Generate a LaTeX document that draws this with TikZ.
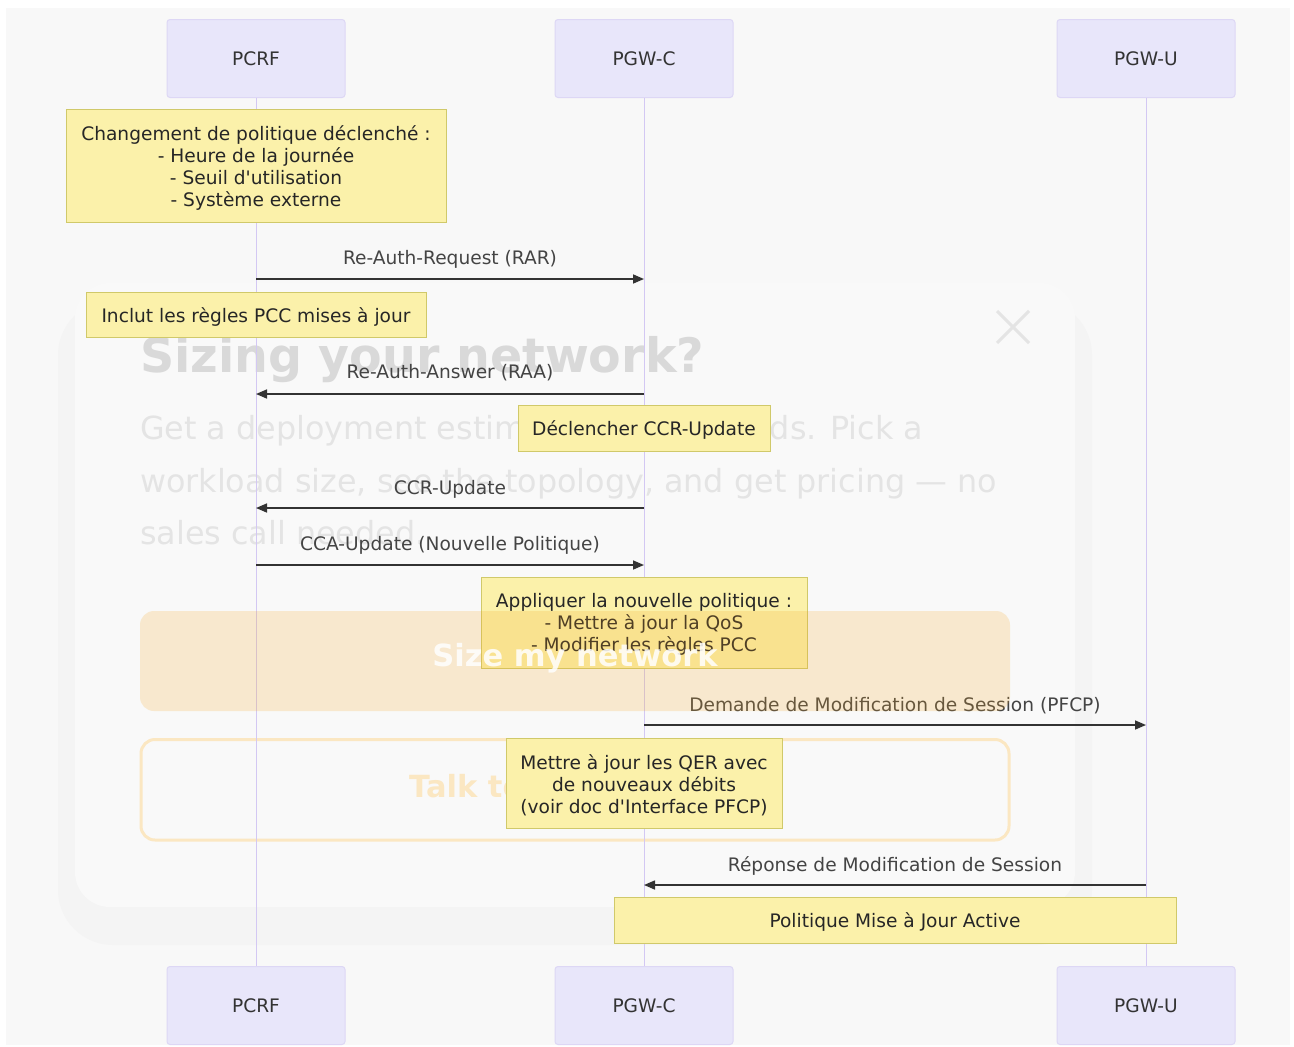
\documentclass[tikz,border=0pt]{standalone}
\usepackage{fontspec}
\newfontfamily\dv{DejaVu Sans}
\usetikzlibrary{arrows.meta}
\definecolor{bgc}{HTML}{F8F8F8}
\definecolor{shadowc}{HTML}{F4F4F4}
\definecolor{modalc}{HTML}{F9F9F9}
\definecolor{actfill}{HTML}{E8E6FA}
\definecolor{actdraw}{HTML}{DDD7F5}
\definecolor{lifec}{HTML}{D3C8F3}
\definecolor{notefill}{HTML}{FBF1AA}
\definecolor{notedraw}{HTML}{D0C96A}
\definecolor{msgc}{HTML}{333333}
\definecolor{lblc}{HTML}{444444}
\definecolor{ovtitle}{HTML}{D9D9D9}
\definecolor{ovtext}{HTML}{E4E4E4}
\definecolor{btnc}{HTML}{F5A623}
\definecolor{btnline}{HTML}{FBE7C2}
\newcommand{\dfont}{\dv\fontsize{18.6}{22}\selectfont}
\newcommand{\ovbig}{\dv\bfseries\fontsize{47.5}{52}\selectfont}
\newcommand{\ovbody}{\dv\fontsize{31.8}{52.5}\selectfont}
\newcommand{\ovbtn}{\dv\bfseries\fontsize{30.5}{36}\selectfont}
\begin{document}
\begin{tikzpicture}[x=1pt,y=-1pt,
  actor/.style={draw=actdraw, fill=actfill, rounded corners=3pt, minimum width=178pt, minimum height=78pt, font=\dfont, text=msgc, line width=1pt, inner sep=0pt},
  note/.style={draw=notedraw, fill=notefill, inner sep=0pt, line width=1pt},
  notetext/.style={font=\dfont, text=black!85, align=center, inner sep=0pt},
  lifeline/.style={draw=lifec, line width=1pt},
  msg/.style={draw=msgc, line width=1.6pt, -{Triangle[length=11pt,width=9pt]}},
  lbl/.style={font=\dfont, text=lblc, inner sep=0pt},
  ovt/.style={anchor=base west, inner sep=0pt}]
\useasboundingbox (0,0) rectangle (1294,1047);
% background
\fill[white] (0,0) rectangle (1294,1047);
\fill[bgc] (6,8) rectangle (1290,1045);
% overlay (behind the diagram)
\fill[shadowc, rounded corners=55pt] (58,300) rectangle (1092,945);
\fill[modalc, rounded corners=35pt] (75,283) rectangle (1075,907);
\node[ovt, font=\ovbig, text=ovtitle] (ovT) at (140,372) {Sizing your network?};
\node[ovt, font=\ovbody, text=ovtext] (ovB1) at (140,439.5) {Get a deployment estimate in 60 seconds. Pick a};
\node[ovt, font=\ovbody, text=ovtext] (ovB2) at (140,492) {workload size, see the topology, and get pricing — no};
\node[ovt, font=\ovbody, text=ovtext] (ovB3) at (140,544.5) {sales call needed.};
\draw[ovtext, line width=3pt] (997,311) -- (1029,343) (1029,311) -- (997,343);
\draw[btnline, line width=3pt, rounded corners=14pt] (141,739.5) rectangle (1009,840);
\node[font=\ovbtn, text=btnline, inner sep=0pt] (ovBt2) at (575,789) {Talk to engineering};
% actors and lifelines
\node[actor] (pcrfT) at (256,58.5) {PCRF};
\node[actor] (pgwcT) at (644,58.5) {PGW-C};
\node[actor] (pgwuT) at (1146,58.5) {PGW-U};
\node[actor] (pcrfB) at (256,1005.5) {PCRF};
\node[actor] (pgwcB) at (644,1005.5) {PGW-C};
\node[actor] (pgwuB) at (1146,1005.5) {PGW-U};
\draw[lifeline] (pcrfT) -- (pcrfB);
\draw[lifeline] (pgwcT) -- (pgwcB);
\draw[lifeline] (pgwuT) -- (pgwuB);
% notes
\node[note, minimum width=380pt, minimum height=113pt] (n1) at (256,165.5) {};
\node[notetext] (n1t) at ([yshift=-2pt]n1.center) {Changement de politique déclenché :\\- Heure de la journée\\- Seuil d'utilisation\\- Système externe};
\node[note, minimum width=340pt, minimum height=45pt] (n2) at (256,314.5) {};
\node[notetext] (n2t) at ([yshift=-2pt]n2.center) {Inclut les règles PCC mises à jour};
\node[note, minimum width=252pt, minimum height=46pt] (n3) at (644,428) {};
\node[notetext] (n3t) at ([yshift=-2pt]n3.center) {Déclencher CCR-Update};
\node[note, minimum width=326pt, minimum height=91pt] (n4) at (644,622.5) {};
\node[notetext] (n4t) at ([yshift=-2pt]n4.center) {Appliquer la nouvelle politique :\\- Mettre à jour la QoS\\- Modifier les règles PCC};
\node[note, minimum width=276pt, minimum height=90pt] (n5) at (644,783) {};
\node[notetext] (n5t) at ([yshift=-2pt]n5.center) {Mettre à jour les QER avec\\de nouveaux débits\\(voir doc d'Interface PFCP)};
\node[note, minimum width=562pt, minimum height=46pt] (n6) at (895,920) {};
\node[notetext] (n6t) at ([yshift=-2pt]n6.center) {Politique Mise à Jour Active};
% message end points
\coordinate (a1) at (256,279);  \coordinate (b1) at (644,279);
\coordinate (a2) at (644,394);  \coordinate (b2) at (256,394);
\coordinate (a3) at (644,508);  \coordinate (b3) at (256,508);
\coordinate (a4) at (256,565);  \coordinate (b4) at (644,565);
\coordinate (a5) at (644,725);  \coordinate (b5) at (1146,725);
\coordinate (a6) at (1146,885); \coordinate (b6) at (644,885);
\draw[msg] (a1) -- (b1);
\draw[msg] (a2) -- (b2);
\draw[msg] (a3) -- (b3);
\draw[msg] (a4) -- (b4);
\draw[msg] (a5) -- (b5);
\draw[msg] (a6) -- (b6);
\node[lbl] (l1) at (450,259) {Re-Auth-Request (RAR)};
\node[lbl] (l2) at (450,373) {Re-Auth-Answer (RAA)};
\node[lbl] (l3) at (450,489) {CCR-Update};
\node[lbl] (l4) at (450,545) {CCA-Update (Nouvelle Politique)};
\node[lbl] (l5) at (895,706) {Demande de Modification de Session (PFCP)};
\node[lbl] (l6) at (895,866) {Réponse de Modification de Session};
% overlay button on top
\fill[btnc, fill opacity=0.2, rounded corners=14pt] (140,611) rectangle (1010,711);
\node[font=\ovbtn, text=white, text opacity=0.85, inner sep=0pt] (ovBt1) at (575,658) {Size my network};
\end{tikzpicture}
\end{document}
